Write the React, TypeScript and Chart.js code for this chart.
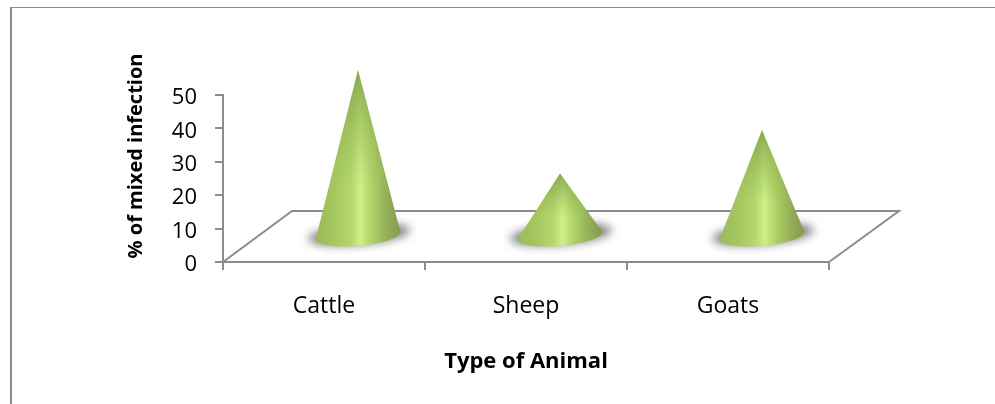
import React, { useEffect, useRef } from "react";
import { Chart, registerables } from "chart.js";

Chart.register(...registerables);

const categories = ["Cattle", "Sheep", "Goats"];
const infectionValues = [50, 19, 32];
const yTicks = [0, 10, 20, 30, 40, 50];
const xAxisTitle = "Type of Animal";
const yAxisTitle = "% of mixed infection";

const AXIS = "#8c8c8c";
const FONT = "'Open Sans', sans-serif";

const conePlugin = {
  id: "cones",
  beforeDatasetsDraw(chart: any) {
    const { ctx, chartArea: a } = chart;
    ctx.save();
    ctx.strokeStyle = AXIS;
    ctx.lineWidth = 2;
    ctx.beginPath();
    ctx.moveTo(a.left, a.bottom);
    ctx.lineTo(a.left + 69, a.bottom - 51);
    ctx.lineTo(a.right + 70, a.bottom - 51);
    ctx.lineTo(a.right, a.bottom);
    ctx.stroke();
    ctx.restore();
  },
  afterDatasetsDraw(chart: any) {
    const { ctx } = chart;
    const meta = chart.getDatasetMeta(0);
    const tilt = (-5 * Math.PI) / 180;
    meta.data.forEach((el: any) => {
      const cx = el.x + 34;
      const baseY = el.base - 25.5;
      const apexY = el.y - 25;
      const rx = 42.5;
      const ry = 10.5;
      // soft floor shadow
      ctx.save();
      ctx.filter = "blur(5px)";
      ctx.fillStyle = "rgba(90,90,90,0.8)";
      ctx.beginPath();
      ctx.ellipse(cx + 1, baseY - 1, 51, 10, tilt, 0, Math.PI * 2);
      ctx.fill();
      ctx.restore();
      // cone body
      const lx = cx - rx * Math.cos(tilt);
      const ly = baseY - rx * Math.sin(tilt);
      const outline = () => {
        ctx.beginPath();
        ctx.moveTo(cx, apexY);
        ctx.lineTo(lx, ly);
        ctx.ellipse(cx, baseY, rx, ry, tilt, Math.PI, 0, true);
        ctx.closePath();
      };
      const g = ctx.createLinearGradient(cx - rx, 0, cx + rx, 0);
      g.addColorStop(0, "#98b95a");
      g.addColorStop(0.25, "#a6ca60");
      g.addColorStop(0.42, "#b4d86e");
      g.addColorStop(0.53, "#cdf088");
      g.addColorStop(0.66, "#b0d268");
      g.addColorStop(0.85, "#92ae56");
      g.addColorStop(1, "#84994e");
      ctx.fillStyle = g;
      outline();
      ctx.fill();
      // the shading darkens toward the apex
      const v = ctx.createLinearGradient(0, apexY, 0, baseY);
      v.addColorStop(0, "rgba(125,158,70,0.85)");
      v.addColorStop(0.7, "rgba(140,175,80,0)");
      ctx.fillStyle = v;
      outline();
      ctx.fill();
    });
    // y-axis title
    ctx.save();
    ctx.translate(136, 156);
    ctx.rotate(-Math.PI / 2);
    ctx.fillStyle = "#000";
    ctx.font = `bold 20px ${FONT}`;
    ctx.textAlign = "center";
    ctx.textBaseline = "middle";
    ctx.fillText(yAxisTitle, 0, 0);
    ctx.restore();
  },
};

export default function App() {
  const ref = useRef<HTMLCanvasElement>(null);
  useEffect(() => {
    document.body.style.margin = "0";
    const chart = new Chart(ref.current!, {
      type: "bar",
      data: {
        labels: categories,
        datasets: [
          { label: yAxisTitle, data: infectionValues, backgroundColor: "transparent", borderWidth: 0 },
        ],
      },
      plugins: [conePlugin],
      options: {
        animation: false,
        responsive: false,
        layout: { padding: { left: 150, right: 166, top: 95, bottom: 26 } },
        plugins: { legend: { display: false }, tooltip: { enabled: false } },
        scales: {
          x: {
            grid: { offset: true, drawOnChartArea: false, drawTicks: true, tickLength: 8, color: AXIS, lineWidth: 2 },
            border: { color: AXIS, width: 2 },
            ticks: { color: "#000", font: { family: FONT, size: 23 }, padding: 23, maxRotation: 0 },
            title: { display: true, text: xAxisTitle, color: "#000", font: { family: FONT, size: 22, weight: "bold" }, padding: { top: 18, bottom: 3 } },
            afterFit: (s: any) => { s.height = 116; },
          },
          y: {
            min: 0,
            max: 50,
            afterBuildTicks: (s: any) => { s.ticks = yTicks.map((value) => ({ value })); },
            grid: { drawOnChartArea: false, drawTicks: true, tickLength: 8, color: AXIS, lineWidth: 2 },
            border: { color: AXIS, width: 2 },
            ticks: { color: "#000", font: { family: FONT, size: 22 }, padding: 18, labelOffset: 3 },
            afterFit: (s: any) => { s.width = 73; },
          },
        },
      },
    } as any);
    return () => chart.destroy();
  }, []);
  return (
    <div style={{ position: "relative", width: 995, height: 404, background: "#fff", overflow: "hidden" }}>
      <div style={{ position: "absolute", left: 10, top: 7, right: 0, bottom: 0, borderLeft: `2px solid ${AXIS}`, borderTop: `1px solid ${AXIS}` }} />
      <canvas ref={ref} width={995} height={404} style={{ position: "absolute", left: 0, top: 0, display: "block" }} />
    </div>
  );
}
